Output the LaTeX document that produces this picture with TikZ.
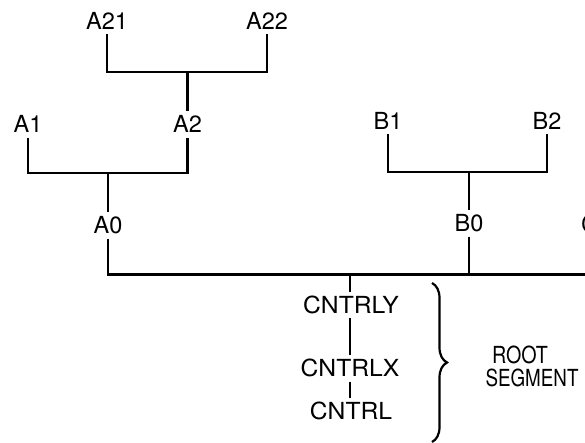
\documentclass[tikz,border=0pt]{standalone}
\usepackage{fontspec}
\setmainfont{TeX Gyre Heros}
\usetikzlibrary{decorations.pathreplacing}
\tikzset{
  lbl/.style={font=\fontsize{23.5}{26}\selectfont, text height=16.8pt, text depth=0pt, inner xsep=1pt, inner ysep=4.5pt},
  link/.style={line width=2.2pt},
  bracestyle/.style={line width=2.2pt, decorate, decoration={brace, amplitude=15pt}}
}
\begin{document}
\begin{tikzpicture}[x=1pt, y=-1pt]
\useasboundingbox (0,0) rectangle (585,443);
\clip (0,0) rectangle (585,443);
% labels
\node[lbl] (A21) at (107,21) {A21};
\node[lbl] (A22) at (267,21) {A22};
\node[lbl] (A1) at (28,124.5) {A1};
\node[lbl] (A2) at (187.5,124.5) {A2};
\node[lbl] (A0) at (108,225.5) {A0};
\node[lbl] (B1) at (388,121) {B1};
\node[lbl] (B2) at (547,121) {B2};
\node[lbl] (B0) at (469,223.5) {B0};
\node[lbl, anchor=west, inner xsep=0pt] (C0) at (581,224.5) {C0};
\node[lbl] (CY) at (351,305) {\scalebox{1.05}[1]{CNTRLY}};
\node[lbl] (CX) at (350,368.5) {\scalebox{1.05}[1]{CNTRLX}};
\node[lbl] (CR) at (351,411.5) {\scalebox{1.05}[1]{CNTRL}};
\node[lbl] (ROOT) at (520,355.5) {\scalebox{0.84}[1]{ROOT}};
\node[lbl] (SEG) at (532,378) {\scalebox{0.8}[1]{SEGMENT}};
% junctions
\coordinate (j1) at (187.5,72);
\coordinate (j2) at (108,173);
\coordinate (j3) at (469,172);
\coordinate (jB) at (469,274.5);
\coordinate (jC) at (350,274.5);
\coordinate (rEnd) at (600,274.5);
\coordinate (bt) at (432,283);
\coordinate (bb) at (432,442);
% connectors
\draw[link] (A21.south) |- (j1) -| (A22.south);
\draw[link] (j1) -- (A2.north);
\draw[link] (A1.south) |- (j2) -| (A2.south);
\draw[link] (j2) -- (A0.north);
\draw[link] (B1.south) |- (j3) -| (B2.south);
\draw[link] (j3) -- (B0.north);
\draw[link] (A0.south) |- (rEnd);
\draw[link] (B0.south) -- (jB);
\draw[link] (jC) -- (jC |- CY.north);
\draw[link] (CY.south -| jC) -- (CX.north -| jC);
\draw[link] (CX.south -| jC) -- (CR.north -| jC);
% brace
\draw[bracestyle] (bt) -- (bb);
\end{tikzpicture}
\end{document}
